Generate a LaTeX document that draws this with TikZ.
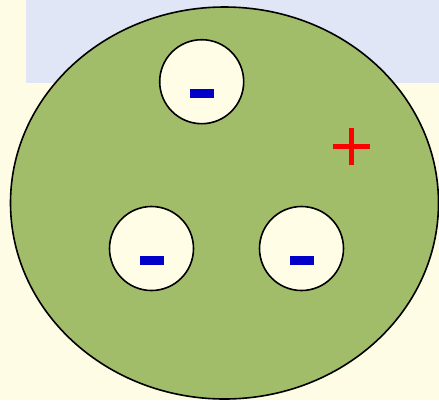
\documentclass[tikz,border=0pt]{standalone}
\definecolor{bg}{HTML}{FEFCE5}
\definecolor{lav}{HTML}{E1E6F7}
\definecolor{cellgreen}{HTML}{A2BD6A}
\definecolor{cream}{HTML}{FFFDE6}
\definecolor{minusblue}{HTML}{0000C8}
\begin{document}
\begin{tikzpicture}[x=1pt,y=-1pt,
  hole/.style={draw=black,line width=1.6pt,fill=cream,circle,minimum size=84pt,inner sep=0pt},
  minus/.style={fill=minusblue}]
\useasboundingbox (0,0) rectangle (439,400);
\fill[bg] (0,0) rectangle (439,400);
\fill[lav] (26,0) rectangle (439,83);
\draw[line width=1.6pt,fill=cellgreen] (224.5,203) ellipse [x radius=214,y radius=196];
\node[hole] (h1) at (201.7,81.7) {};
\node[hole] (h2) at (151.5,248.5) {};
\node[hole] (h3) at (301.5,248.5) {};
\fill[minus] (190,89) rectangle (214,98);
\fill[minus] (140,256) rectangle (164,265);
\fill[minus] (290,256) rectangle (314,265);
\fill[red] (332.7,144.3) rectangle (370,149);
\fill[red] (349,128) rectangle (354,165.3);
\end{tikzpicture}
\end{document}
